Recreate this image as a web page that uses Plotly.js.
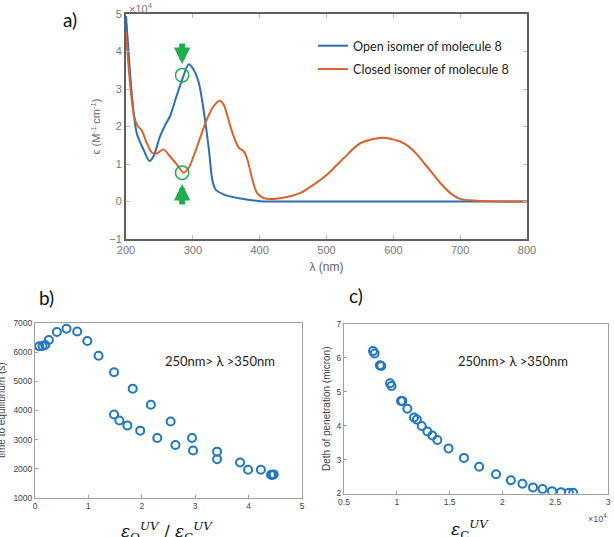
<!DOCTYPE html>
<html>
<head>
<meta charset="utf-8">
<script src="https://cdn.plot.ly/plotly-3.0.1.min.js"></script>
<style>html,body{margin:0;padding:0;background:#fff;}#chart{width:614px;height:537px;}</style>
</head>
<body>
<div id="chart"></div>
<script>
// Panel a: absorption spectra (epsilon in units of 1e4 M^-1 cm^-1)
const lambdaOpen = [200,203,209,216,226,235,241,251,259,266,274,284,294,301,309,316,324,329,334,346,371,401,450,500,600,700,800];
const epsOpen    = [4.95,4.2,2.8,1.83,1.39,1.08,1.2,1.74,2.05,2.28,2.72,3.25,3.66,3.52,3.16,2.45,1.39,0.59,0.32,0.19,0.08,0.01,0,0,0,0,0];
const lambdaClosed = [200,206,212,217,224,231,239,246,256,266,276,286,294,301,311,321,331,340,346,354,361,369,376,381,389,396,406,421,441,461,481,501,526,551,583,601,616,631,650,670,685,700,725,760,800];
const epsClosed    = [4.5,3.16,2.28,2.03,1.88,1.56,1.3,1.28,1.39,1.2,0.99,0.77,0.9,1.2,1.7,2.19,2.54,2.69,2.59,2.14,1.74,1.43,1.34,1.16,0.59,0.23,0.09,0.07,0.12,0.23,0.45,0.72,1.16,1.56,1.7,1.65,1.55,1.34,0.94,0.5,0.23,0.07,0.02,0,0];
const seriesNames = ["Open isomer of molecule 8","Closed isomer of molecule 8"];
const markLambda = 284;
const markEps = [3.37, 0.77];

// Panel b: time to equilibrium vs epsO/epsC
const ratioB = [0.08,0.14,0.19,0.26,0.41,0.59,0.79,0.98,1.19,1.48,1.83,2.17,2.54,2.94,3.41,3.84,4.23,4.42,4.47,
                1.48,1.58,1.73,1.97,2.29,2.63,2.96,3.41,3.99,4.44];
const timeB  = [6200,6210,6250,6420,6690,6800,6710,6380,5880,5310,4750,4200,3620,3060,2590,2220,1970,1800,1810,
                3860,3660,3490,3310,3060,2820,2630,2330,1970,1790];

// Panel c: depth of penetration vs epsC
const epsC   = [7750,7900,8400,8530,9360,9500,10400,10520,11000,11630,11900,12360,12900,13360,13840,14900,16360,17800,19400,20800,21900,22900,23800,24700,25550,26300,26700];
const depthC = [6.20,6.13,5.78,5.76,5.25,5.17,4.73,4.73,4.50,4.24,4.18,3.99,3.83,3.71,3.58,3.33,3.05,2.79,2.57,2.39,2.29,2.18,2.13,2.07,2.04,2.02,2.02];
const cTickVals = [5000,10000,15000,20000,25000,30000];
const cTickText = ["0.5","1","1.5","2","2.5","3"];
const rangeText = "250nm> λ >350nm";

const blue = "#2f6db3", orange = "#d9622b", green = "#1fae4f", mk = "#1f77c0";
const W = 614, H = 537;
const px = x => x / W, py = y => 1 - y / H;

const traces = [
  {x: lambdaOpen, y: epsOpen, mode: "lines", name: seriesNames[0], line: {color: blue, width: 2, shape: "spline", smoothing: 0.8}, xaxis: "x", yaxis: "y", legendgroup: "a"},
  {x: lambdaClosed, y: epsClosed, mode: "lines", name: seriesNames[1], line: {color: orange, width: 2, shape: "spline", smoothing: 0.8}, xaxis: "x", yaxis: "y", legendgroup: "b"},
  {x: ratioB, y: timeB, mode: "markers", showlegend: false, marker: {symbol: "circle-open", size: 8, color: mk, line: {width: 2, color: mk}}, xaxis: "x2", yaxis: "y2"},
  {x: epsC, y: depthC, mode: "markers", showlegend: false, marker: {symbol: "circle-open", size: 8, color: mk, line: {width: 2, color: mk}}, xaxis: "x3", yaxis: "y3"}
];

const tickFontA = {family: "Liberation Sans, Arial, sans-serif", size: 11, color: "#777"};
const tickFontB = {family: "Liberation Sans, Arial, sans-serif", size: 8.5, color: "#444"};
const labFont = {family: "Lato, Open Sans, sans-serif", size: 19, color: "#111"};
const txtFont = {family: "Lato, Open Sans, sans-serif", size: 13, color: "#222"};
const legFont = {family: "Lato, Open Sans, sans-serif", size: 12.6, color: "#222"};
const mathFont = {family: "DejaVu Serif, serif", size: 17, color: "#111"};

const baseB = {showgrid: false, zeroline: false, showline: true, mirror: true, linecolor: "#a0a0a0", linewidth: 1, ticks: "inside", ticklen: 3, tickcolor: "#a0a0a0", tickfont: tickFontB};

const layout = {
  width: W, height: H, margin: {l: 0, r: 0, t: 0, b: 0}, paper_bgcolor: "#fff", plot_bgcolor: "#fff",
  showlegend: true,
  legend: {x: px(313), y: py(31), xanchor: "left", yanchor: "top", bgcolor: "rgba(0,0,0,0)", font: legFont, itemwidth: 30, tracegroupgap: 4, traceorder: "grouped"},
  xaxis: {domain: [px(126), px(527)], range: [200, 800], dtick: 100, anchor: "y", showgrid: false, zeroline: false, showline: true, mirror: "allticks", linecolor: "#606060", linewidth: 2, ticks: "inside", ticklen: 4, tickcolor: "#bbb", tickfont: tickFontA,
          title: {text: "λ (nm)", font: {family: "Liberation Sans, Arial, sans-serif", size: 12, color: "#666"}, standoff: 7}},
  yaxis: {domain: [py(239), py(14)], range: [-1, 5], dtick: 1, anchor: "x", showgrid: false, zeroline: false, showline: true, mirror: "allticks", linecolor: "#606060", linewidth: 2, ticks: "inside", ticklen: 4, tickcolor: "#bbb", tickfont: tickFontA,
          title: {text: "ϵ (M<sup>-1</sup> cm<sup>-1</sup>)", font: {family: "Liberation Sans, Arial, sans-serif", size: 11, color: "#666"}, standoff: 6}},
  xaxis2: Object.assign({}, baseB, {domain: [px(35), px(302)], range: [0, 5], dtick: 1, anchor: "y2"}),
  yaxis2: Object.assign({}, baseB, {domain: [py(498), py(323)], range: [1000, 7000], dtick: 1000, anchor: "x2"}),
  xaxis3: Object.assign({}, baseB, {domain: [px(344), px(608)], range: [5000, 30000], tickvals: cTickVals, ticktext: cTickText, anchor: "y3"}),
  yaxis3: Object.assign({}, baseB, {domain: [py(493.5), py(324)], range: [2, 7], dtick: 1, anchor: "x3",
          title: {text: "Deth of penetration (micron)", font: {family: "Liberation Sans, Arial, sans-serif", size: 10, color: "#444"}, standoff: 4}}),
  shapes: markEps.map(v => ({type: "circle", xref: "x", yref: "y", x0: markLambda - 10, x1: markLambda + 10, y0: v - 0.18, y1: v + 0.18, line: {color: green, width: 1.5}})),
  annotations: [
    {text: "a)", xref: "paper", yref: "paper", x: px(70), y: py(20), xanchor: "center", yanchor: "middle", showarrow: false, font: labFont},
    {text: "b)", xref: "paper", yref: "paper", x: px(46), y: py(297), xanchor: "center", yanchor: "middle", showarrow: false, font: labFont},
    {text: "c)", xref: "paper", yref: "paper", x: px(356), y: py(295), xanchor: "center", yanchor: "middle", showarrow: false, font: labFont},
    {text: "×10<sup>4</sup>", xref: "paper", yref: "paper", x: px(127), y: py(8), xanchor: "left", yanchor: "middle", showarrow: false, font: {family: "Liberation Sans, Arial, sans-serif", size: 11, color: "#777"}},
    {text: "×10<sup>4</sup>", xref: "paper", yref: "paper", x: px(609), y: py(518), xanchor: "right", yanchor: "middle", showarrow: false, font: {family: "Liberation Sans, Arial, sans-serif", size: 9, color: "#555"}},
    {text: rangeText, xref: "paper", yref: "paper", x: px(220), y: py(361), xanchor: "center", yanchor: "middle", showarrow: false, font: txtFont},
    {text: rangeText, xref: "paper", yref: "paper", x: px(513), y: py(361), xanchor: "center", yanchor: "middle", showarrow: false, font: txtFont},
    {text: "time to equilibrium (s)", xref: "paper", yref: "paper", x: px(1), y: py(410), xanchor: "center", yanchor: "middle", textangle: -90, showarrow: false, font: {family: "Liberation Sans, Arial, sans-serif", size: 10, color: "#444"}},
    {text: "<i>ε</i><sub>O</sub><sup><i>UV</i></sup> / <i>ε</i><sub>C</sub><sup><i>UV</i></sup>", xref: "paper", yref: "paper", x: px(167), y: py(531), xanchor: "center", yanchor: "middle", showarrow: false, font: mathFont},
    {text: "<i>ε</i><sub>C</sub><sup><i>UV</i></sup>", xref: "paper", yref: "paper", x: px(470), y: py(529), xanchor: "center", yanchor: "middle", showarrow: false, font: mathFont},
    {text: "", xref: "x", yref: "y", x: markLambda, y: markEps[0] + 0.3, ax: 0, ay: -22, showarrow: true, arrowhead: 2, arrowsize: 0.55, arrowwidth: 6, arrowcolor: green},
    {text: "", xref: "x", yref: "y", x: markLambda, y: markEps[1] - 0.3, ax: 0, ay: 22, showarrow: true, arrowhead: 2, arrowsize: 0.55, arrowwidth: 6, arrowcolor: green}
  ]
};

Plotly.newPlot("chart", traces, layout, {staticPlot: true, displayModeBar: false});
</script>
</body>
</html>
